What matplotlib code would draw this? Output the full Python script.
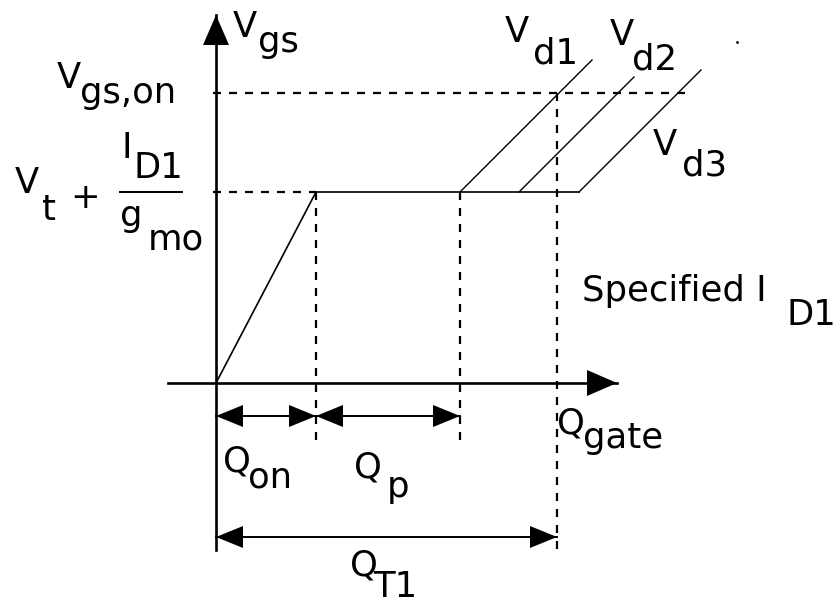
import matplotlib.pyplot as plt
import numpy as np

# gate charge breakpoints (drawing units, origin at Q=0, Vgs=0)
q_on = 100          # end of turn-on ramp
q_p = 244           # end of plateau for Vd1
q_t1 = 341          # total gate charge at Vgs,on on the Vd1 line
v_plateau = 191     # Vt + ID1/gmo
v_on = 290          # Vgs,on
vd_names = ['d1', 'd2', 'd3']
vd_start = [244, 303, 363]   # where each Vd line leaves the plateau
vd_top = [323, 306, 313]     # height where each Vd line stops
q_axis = (-48, 401)
v_axis = (-167, 368)

FS = 25.5
plt.rcParams['font.family'] = 'DejaVu Sans'


def head(ax, tip, direction, length=28, width=24):
    """filled triangle arrow head pointing along direction"""
    d = np.array(direction, float)
    d /= np.hypot(*d)
    n = np.array([-d[1], d[0]])
    tip = np.array(tip, float)
    base = tip - d * length
    pts = np.array([tip, base + n * width / 2, base - n * width / 2])
    ax.fill(pts[:, 0], pts[:, 1], color='black', lw=0, zorder=5)


def dim_arrow(ax, x0, x1, y):
    ax.plot([x0, x1], [y, y], color='black', lw=1.4)
    head(ax, (x0, y), (-1, 0), 27, 22)
    head(ax, (x1, y), (1, 0), 27, 22)


def label(ax, x, y, main, sub, dx, dy):
    ax.text(x, y, main, fontsize=FS, va='baseline', ha='left')
    ax.text(x + dx, y - dy, sub, fontsize=FS, va='baseline', ha='left')


fig = plt.figure(figsize=(8.38, 6.03), dpi=100)
ax = fig.add_axes([0, 0, 1, 1])
ax.set_xlim(-216, 622)
ax.set_ylim(-220, 383)
ax.axis('off')

# axes
ax.plot(q_axis, [0, 0], color='black', lw=1.9)
head(ax, (q_axis[1], 0), (1, 0), 30, 26)
ax.plot([0, 0], v_axis, color='black', lw=1.9)
head(ax, (0, v_axis[1]), (0, 1), 30, 26)

# gate voltage curve
ax.plot([0, q_on, vd_start[-1]], [0, v_plateau, v_plateau], color='black', lw=1.2)
for qs, vt in zip(vd_start, vd_top):
    ax.plot([qs, qs + (vt - v_plateau)], [v_plateau, vt], color='black', lw=1.0)

# dashed guides
dash = dict(color='black', lw=1.6, ls=(0, (3.6, 3.6)))
ax.plot([-3, q_on], [v_plateau, v_plateau], **dash)
ax.plot([-3, 477], [v_on, v_on], **dash)
ax.plot([q_on, q_on], [v_plateau, -60], **dash)
ax.plot([q_p, q_p], [v_plateau, -65], **dash)
ax.plot([q_t1, q_t1], [v_on, -170], **dash)

# charge dimensions
dim_arrow(ax, 0, q_on, -33)
dim_arrow(ax, q_on, q_p, -33)
dim_arrow(ax, 0, q_t1, -154)

# labels
label(ax, 17, 346, 'V', 'gs', 25, 15)
label(ax, -159, 295, 'V', 'gs,on', 23, 15)
label(ax, -201, 190, 'V', 't', 27, 27)
ax.text(-131, 185, '+', fontsize=FS, va='center', ha='center')
label(ax, -95, 225, 'I', 'D1', 12, 20)
ax.plot([-96, -34], [v_plateau, v_plateau], color='black', lw=1.4)
label(ax, -96, 157, 'g', 'mo', 28, 24)
label(ax, 289, 341, 'V', 'd1', 28, 21)
label(ax, 394, 338, 'V', 'd2', 22, 25)
label(ax, 437, 228, 'V', 'd3', 29, 20)
ax.text(366, 82, 'Specified I', fontsize=FS, va='baseline', ha='left')
ax.text(570, 58, 'D1', fontsize=FS, va='baseline', ha='left')
label(ax, 341, -50, 'Q', 'gate', 26, 15)
label(ax, 7, -89, 'Q', 'on', 25, 16)
label(ax, 138, -95, 'Q', 'p', 33, 19)
label(ax, 134, -192, 'Q', 'T1', 23, 22)
ax.plot([521], [341], marker='.', color='black', ms=2)

fig.savefig('out.png', dpi=100)
